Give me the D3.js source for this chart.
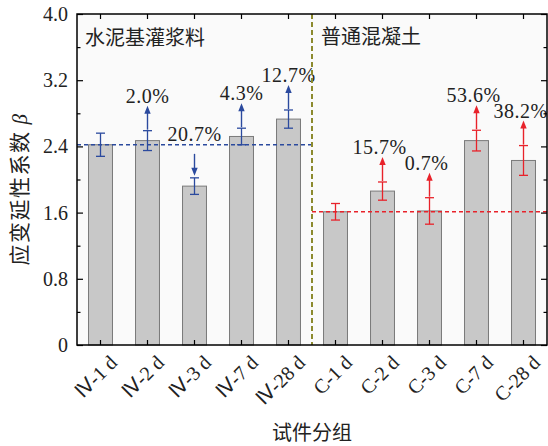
<!DOCTYPE html>
<html>
<head>
<meta charset="utf-8">
<script src="https://cdn.jsdelivr.net/npm/d3@7"></script>
<style>
  html, body { margin: 0; padding: 0; background: #ffffff; }
  svg { display: block; }
</style>
</head>
<body>
<svg id="chart" width="548" height="446"></svg>
<script>
// Specimen groups and their strain ductility coefficient β
const categories = ["Ⅳ-1 d", "Ⅳ-2 d", "Ⅳ-3 d", "Ⅳ-7 d", "Ⅳ-28 d", "C-1 d", "C-2 d", "C-3 d", "C-7 d", "C-28 d"];
const groups = ["iv", "iv", "iv", "iv", "iv", "c", "c", "c", "c", "c"];
const betaValues = [2.42, 2.47, 1.92, 2.52, 2.73, 1.61, 1.86, 1.62, 2.47, 2.23];
const errValues = [0.14, 0.12, 0.10, 0.10, 0.11, 0.10, 0.11, 0.16, 0.125, 0.18];
// change relative to the 1 d reference of each material
const changeLabels = [null, "2.0%", "20.7%", "4.3%", "12.7%", null, "15.7%", "0.7%", "53.6%", "38.2%"];
const changeDirs = [0, 1, -1, 1, 1, 0, 1, 1, 1, 1];
const groupBaselines = { iv: 2.42, c: 1.61 };
const groupTitles = { iv: "水泥基灌浆料", c: "普通混凝土" };
const yTicks = [0, 0.8, 1.6, 2.4, 3.2, 4.0];
const yMinorTicks = [0.4, 1.2, 2.0, 2.8, 3.6];

const colors = { iv: "#2b4a9e", c: "#e8222a" };

const margin = { left: 77, right: 1, top: 14, bottom: 101 };
const W = 548, H = 446;
const svg = d3.select("#chart");

const x = d3.scaleBand()
  .domain(categories)
  .range([margin.left, W - margin.right])
  .paddingInner(0.49)
  .paddingOuter(0.245);
const y = d3.scaleLinear().domain([0, 4]).range([H - margin.bottom, margin.top]);

const x0 = margin.left, x1 = W - margin.right;
const y0 = y(0), y1 = y(4);
const serif = "'Liberation Serif', 'Times New Roman', serif";

// plot background
svg.append("rect")
  .attr("x", x0).attr("y", y1)
  .attr("width", x1 - x0).attr("height", y0 - y1)
  .attr("fill", "#fafafa");

// bars
svg.append("g").selectAll("rect")
  .data(categories)
  .join("rect")
  .attr("x", (d) => x(d))
  .attr("y", (d, i) => y(betaValues[i]))
  .attr("width", x.bandwidth())
  .attr("height", (d, i) => y(0) - y(betaValues[i]))
  .attr("fill", "#c8c8c8")
  .attr("stroke", "#7a7a7a")
  .attr("stroke-width", 1);

// baseline reference lines for each material
const splitX = x(categories[5]) - (x.step() - x.bandwidth()) / 2;
svg.append("line")
  .attr("x1", x0).attr("x2", splitX)
  .attr("y1", y(groupBaselines.iv)).attr("y2", y(groupBaselines.iv))
  .attr("stroke", colors.iv).attr("stroke-width", 1.3)
  .attr("stroke-dasharray", "4,3");
svg.append("line")
  .attr("x1", splitX).attr("x2", x1)
  .attr("y1", y(groupBaselines.c)).attr("y2", y(groupBaselines.c))
  .attr("stroke", colors.c).attr("stroke-width", 1.3)
  .attr("stroke-dasharray", "4,3");

// error bars
const eb = svg.append("g");
categories.forEach((c, i) => {
  const cx = x(c) + x.bandwidth() / 2;
  const col = colors[groups[i]];
  const top = y(betaValues[i] + errValues[i]);
  const bot = y(betaValues[i] - errValues[i]);
  eb.append("line").attr("x1", cx).attr("x2", cx).attr("y1", top).attr("y2", bot)
    .attr("stroke", col).attr("stroke-width", 1.3);
  [top, bot].forEach((yy) => {
    eb.append("line").attr("x1", cx - 4.5).attr("x2", cx + 4.5).attr("y1", yy).attr("y2", yy)
      .attr("stroke", col).attr("stroke-width", 1.3);
  });
});

// arrows and change labels
const ann = svg.append("g");
categories.forEach((c, i) => {
  if (!changeLabels[i]) return;
  const cx = x(c) + x.bandwidth() / 2;
  const col = colors[groups[i]];
  const errTop = y(betaValues[i] + errValues[i]);
  let tailY, tipY, labelY;
  if (changeDirs[i] > 0) {
    tailY = errTop - 1;
    tipY = errTop - 25;
    labelY = tipY - 3;
  } else {
    tailY = errTop - 24;
    tipY = errTop - 2;
    labelY = tailY - 13;
  }
  const dir = Math.sign(tipY - tailY);
  const headLen = 8, headHalf = 3.2;
  ann.append("line")
    .attr("x1", cx).attr("x2", cx)
    .attr("y1", tailY).attr("y2", tipY - dir * headLen * 0.6)
    .attr("stroke", col).attr("stroke-width", 1.4);
  ann.append("path")
    .attr("d", `M${cx},${tipY} L${cx - headHalf},${tipY - dir * headLen} L${cx + headHalf},${tipY - dir * headLen} Z`)
    .attr("fill", col);
  ann.append("text")
    .attr("x", cx - (groups[i] === "c" ? 3 : 0))
    .attr("y", labelY)
    .attr("text-anchor", "middle")
    .attr("font-family", serif)
    .attr("font-size", 20)
    .attr("letter-spacing", 0.5)
    .attr("fill", "#222")
    .text(changeLabels[i]);
});

// material divider
svg.append("line")
  .attr("x1", splitX).attr("x2", splitX)
  .attr("y1", y1).attr("y2", y0)
  .attr("stroke", "#8c8a2e").attr("stroke-width", 2)
  .attr("stroke-dasharray", "5,3");

// material titles
svg.append("text")
  .attr("x", x0 + 8).attr("y", y1 + 31)
  .attr("font-family", "'Noto Sans CJK SC', sans-serif")
  .attr("font-size", 20)
  .attr("fill", "#222")
  .text(groupTitles.iv);
svg.append("text")
  .attr("x", splitX + 9).attr("y", y1 + 30)
  .attr("font-family", "'Noto Sans CJK SC', sans-serif")
  .attr("font-size", 20)
  .attr("fill", "#222")
  .text(groupTitles.c);

// axes: inward ticks on all four sides
svg.append("g").attr("transform", `translate(${x0},0)`)
  .call(d3.axisRight(y).tickValues(yTicks).tickSize(6).tickFormat(() => ""))
  .call((g) => g.select(".domain").remove());
svg.append("g").attr("transform", `translate(${x0},0)`)
  .call(d3.axisRight(y).tickValues(yMinorTicks).tickSize(3.5).tickFormat(() => ""))
  .call((g) => g.select(".domain").remove());
svg.append("g").attr("transform", `translate(${x1},0)`)
  .call(d3.axisLeft(y).tickValues(yTicks).tickSize(6).tickFormat(() => ""))
  .call((g) => g.select(".domain").remove());
svg.append("g").attr("transform", `translate(${x1},0)`)
  .call(d3.axisLeft(y).tickValues(yMinorTicks).tickSize(3.5).tickFormat(() => ""))
  .call((g) => g.select(".domain").remove());
svg.append("g").attr("transform", `translate(0,${y0})`)
  .call(d3.axisTop(x).tickSize(5).tickFormat(() => ""))
  .call((g) => g.select(".domain").remove());
svg.append("g").attr("transform", `translate(0,${y1})`)
  .call(d3.axisBottom(x).tickSize(5).tickFormat(() => ""))
  .call((g) => g.select(".domain").remove());
svg.selectAll(".tick line").attr("stroke", "#000").attr("stroke-width", 1.2);

// y tick labels
svg.append("g").selectAll("text")
  .data(yTicks)
  .join("text")
  .attr("x", x0 - 9)
  .attr("y", (d) => y(d))
  .attr("dy", "0.35em")
  .attr("text-anchor", "end")
  .attr("font-family", serif)
  .attr("font-size", 20)
  .attr("fill", "#222")
  .text((d) => (d === 0 ? "0" : d.toFixed(1)));

// x tick labels, rotated
svg.append("g").selectAll("text")
  .data(categories)
  .join("text")
  .attr("transform", (d) => `translate(${x(d) + x.bandwidth() / 2 + 8},${y0 + 9}) rotate(-45)`)
  .attr("text-anchor", "end")
  .attr("dy", "0.7em")
  .attr("font-family", serif)
  .attr("font-size", 20)
  .attr("fill", "#222")
  .text((d) => d);

// frame
svg.append("rect")
  .attr("x", x0).attr("y", y1)
  .attr("width", x1 - x0).attr("height", y0 - y1)
  .attr("fill", "none").attr("stroke", "#000").attr("stroke-width", 1.5);

// axis titles
svg.append("text")
  .attr("x", (x0 + x1) / 2).attr("y", 440)
  .attr("text-anchor", "middle")
  .attr("font-family", "'Noto Sans CJK SC', sans-serif")
  .attr("font-size", 20)
  .attr("fill", "#222")
  .text("试件分组");
const yTitle = svg.append("text")
  .attr("transform", `translate(27,189) rotate(-90)`)
  .attr("text-anchor", "middle")
  .attr("font-family", "'Noto Sans CJK SC', sans-serif")
  .attr("font-size", 21)
  .attr("letter-spacing", 1.5)
  .attr("fill", "#222");
yTitle.append("tspan").text("应变延性系数 ");
yTitle.append("tspan").attr("font-family", serif).attr("font-style", "italic").text("β");
</script>
</body>
</html>
